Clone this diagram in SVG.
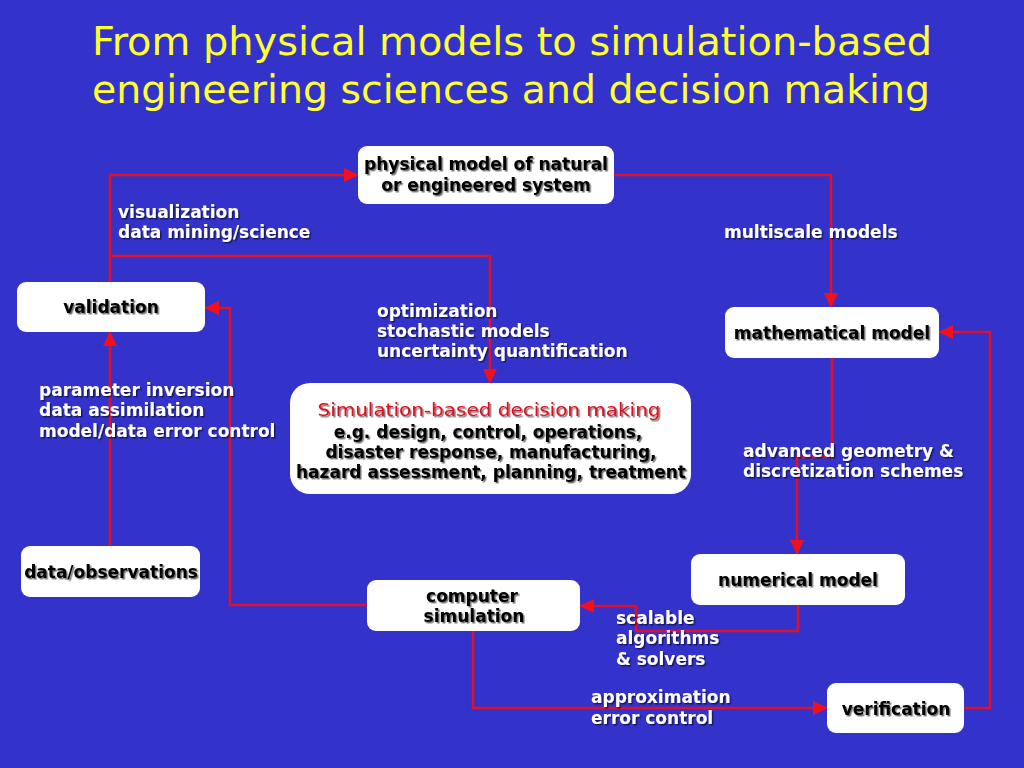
<svg xmlns="http://www.w3.org/2000/svg" width="1024" height="768" viewBox="0 0 1024 768">
<defs>
<style>
.title{font-family:"DejaVu Sans Condensed","DejaVu Sans",sans-serif;font-size:39px;fill:#FFFF33}
.box{fill:#FFFFFF}
.nt{font-family:"DejaVu Sans","Verdana",sans-serif;font-weight:bold;font-size:17px;fill:#000000;text-anchor:middle}
.lb{font-family:"DejaVu Sans","Verdana",sans-serif;font-weight:bold;font-size:17px;fill:#FFFFFF}
.red{font-family:"DejaVu Sans","Verdana",sans-serif;font-size:18.5px;fill:#E01020;text-anchor:middle}
.ln{fill:none;stroke:#E0102A;stroke-width:2.6}
</style>
<filter id="sh" x="-5%" y="-20%" width="110%" height="150%">
<feDropShadow dx="1.5" dy="1.5" stdDeviation="0.6" flood-color="#000000" flood-opacity="0.55"/>
</filter>
<marker id="ah" markerUnits="userSpaceOnUse" markerWidth="15" markerHeight="14" refX="14" refY="7" orient="auto">
<path d="M0,0 L15,7 L0,14 z" fill="#F0101E"/>
</marker>
</defs>
<rect x="0" y="0" width="1024" height="768" fill="#3333CC"/>
<g id="title">
<text class="title" x="92" y="55" textLength="840" lengthAdjust="spacingAndGlyphs">From physical models to simulation-based</text>
<text class="title" x="92" y="103" textLength="838" lengthAdjust="spacingAndGlyphs">engineering sciences and decision making</text>
</g>
<g id="connectors">
<polyline class="ln" points="110,282 110,175 358,175" marker-end="url(#ah)"/>
<polyline class="ln" points="110,256 490,256 490,383" marker-end="url(#ah)"/>
<polyline class="ln" points="614,175 831,175 831,307" marker-end="url(#ah)"/>
<polyline class="ln" points="832,358 832,457 797,457 797,554" marker-end="url(#ah)"/>
<polyline class="ln" points="798,605 798,631 636,631 636,606 580,606" marker-end="url(#ah)"/>
<polyline class="ln" points="473,631 473,708 827,708" marker-end="url(#ah)"/>
<polyline class="ln" points="964,708 990,708 990,332 939,332" marker-end="url(#ah)"/>
<polyline class="ln" points="367,605 230,605 230,308 205,308" marker-end="url(#ah)"/>
<polyline class="ln" points="110,546 110,332" marker-end="url(#ah)"/>
</g>
<g id="labels" filter="url(#sh)">
<text class="lb" x="118" y="218">visualization</text>
<text class="lb" x="118" y="238">data mining/science</text>
<text class="lb" x="724" y="238">multiscale models</text>
<text class="lb" x="377" y="317">optimization</text>
<text class="lb" x="377" y="337">stochastic models</text>
<text class="lb" x="377" y="357">uncertainty quantification</text>
<text class="lb" x="39" y="396">parameter inversion</text>
<text class="lb" x="39" y="416">data assimilation</text>
<text class="lb" x="39" y="437">model/data error control</text>
<text class="lb" x="743" y="457">advanced geometry &amp;</text>
<text class="lb" x="743" y="477">discretization schemes</text>
<text class="lb" x="616" y="624">scalable</text>
<text class="lb" x="616" y="644">algorithms</text>
<text class="lb" x="616" y="665">&amp; solvers</text>
<text class="lb" x="591" y="703">approximation</text>
<text class="lb" x="591" y="724">error control</text>
</g>
<g id="physical-model">
<rect class="box" x="358" y="146" width="256" height="58" rx="9"/>
<g filter="url(#sh)">
<text class="nt" x="486" y="170">physical model of natural</text>
<text class="nt" x="486" y="191">or engineered system</text>
</g>
</g>
<g id="validation">
<rect class="box" x="17" y="282" width="188" height="50" rx="9"/>
<text class="nt" x="111" y="313" filter="url(#sh)">validation</text>
</g>
<g id="mathematical-model">
<rect class="box" x="725" y="307" width="214" height="51" rx="9"/>
<text class="nt" x="832" y="339" filter="url(#sh)">mathematical model</text>
</g>
<g id="decision-making">
<rect class="box" x="290" y="383" width="401" height="111" rx="20"/>
<g filter="url(#sh)">
<text class="red" x="489" y="416" textLength="343" lengthAdjust="spacingAndGlyphs">Simulation-based decision making</text>
<text class="nt" x="488" y="438">e.g. design, control, operations,</text>
<text class="nt" x="491" y="458">disaster response, manufacturing,</text>
<text class="nt" x="491" y="478">hazard assessment, planning, treatment</text>
</g>
</g>
<g id="data-observations">
<rect class="box" x="21" y="546" width="179" height="51" rx="9"/>
<text class="nt" x="111" y="578" filter="url(#sh)">data/observations</text>
</g>
<g id="numerical-model">
<rect class="box" x="691" y="554" width="214" height="51" rx="9"/>
<text class="nt" x="798" y="586" filter="url(#sh)">numerical model</text>
</g>
<g id="computer-simulation">
<rect class="box" x="367" y="580" width="213" height="51" rx="9"/>
<g filter="url(#sh)">
<text class="nt" x="472" y="602">computer</text>
<text class="nt" x="474" y="622">simulation</text>
</g>
</g>
<g id="verification">
<rect class="box" x="827" y="683" width="137" height="50" rx="9"/>
<text class="nt" x="896" y="715" filter="url(#sh)">verification</text>
</g>
</svg>
